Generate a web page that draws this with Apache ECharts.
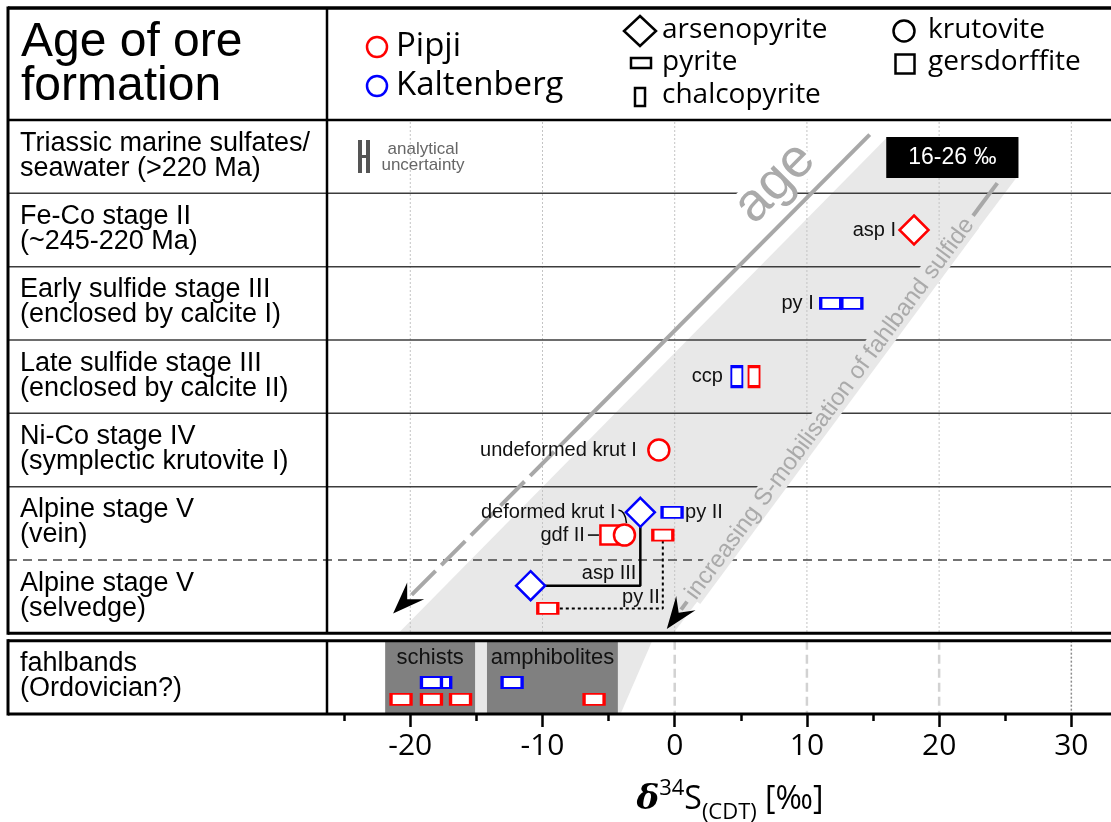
<!DOCTYPE html>
<html>
<head>
<meta charset="utf-8">
<title>Age of ore formation – δ34S</title>
<script src="https://cdn.jsdelivr.net/npm/echarts@6.0.0/dist/echarts.min.js"></script>
<style>
  html, body { margin: 0; padding: 0; background: #fff; }
  #chart { width: 1111px; height: 822px; }
</style>
</head>
<body>
<div id="chart"></div>
<script>
// ---- axis ticks (δ34S, ‰ CDT) ----
const majorTicks = [-20, -10, 0, 10, 20, 30];
const minorTicks = [-25, -15, -5, 5, 15, 25];

// ---- stage rows, top to bottom ----
const stageLabels = [
  'Triassic marine sulfates/\nseawater (>220 Ma)',
  'Fe-Co stage II\n(~245-220 Ma)',
  'Early sulfide stage III\n(enclosed by calcite I)',
  'Late sulfide stage III\n(enclosed by calcite II)',
  'Ni-Co stage IV\n(symplectic krutovite I)',
  'Alpine stage V\n(vein)',
  'Alpine stage V\n(selvedge)'
];
const fahlbandLabel = 'fahlbands\n(Ordovician?)';

// ---- δ34S measurements: [δ34S ‰, row position (0 = top of first stage row)] ----
const pipjiArsenopyrite   = [[18.1, 1.5]];
const pipjiChalcopyrite   = [[6.0, 3.5]];
const pipjiGersdorffite   = [[-4.9, 5.66]];
const pipjiKrutovite      = [[-1.2, 4.5], [-3.8, 5.66]];
const pipjiPyrite         = [[-0.9, 5.66], [-9.6, 6.66], [-20.7, 7.9], [-18.4, 7.9], [-16.2, 7.9], [-6.1, 7.9]];
const kaltArsenopyrite    = [[-2.6, 5.35], [-10.9, 6.35]];
const kaltChalcopyrite    = [[4.7, 3.5]];
const kaltPyrite          = [[11.8, 2.5], [13.4, 2.5], [-0.2, 5.35], [-17.7, 7.67], [-18.4, 7.67], [-12.3, 7.67]];

// ---- reference ranges (‰) ----
const seawaterRange    = [16, 26];
const schistRange      = [-21.9, -15.1];
const amphiboliteRange = [-14.2, -4.3];

// shaded field of fahlband-sulfide mobilisation, in [δ34S, row position]
const mobilisationBand = [[16, 0.25], [26, 0.25], [26, 0.75], [-0.1, 7], [-20.9, 7]];
const fahlbandShade    = [[-21.9, 7.1], [-1.7, 7.1], [-4.1, 8.1], [-21.9, 8.1]];
const ageArrow          = [[14.75, 0.2], [-21.3, 6.73]];
const mobilisationArrow = [[24.4, 0.86], [-0.6, 6.94]];

// ---------------------------------------------------------------
const RED = '#ff0000', BLUE = '#0000ff', INK = '#000';
const SANS = '"Liberation Sans", Arial, sans-serif';
const OPEN = '"Open Sans", sans-serif';
const ROWS = stageLabels.length;
const FAHL_TOP = ROWS + 0.1, FAHL_BOT = ROWS + 1.1;
const X_MIN = -26.3, X_MAX = 33;
const BAND_GREY = '#e8e8e8', LINE_GREY = '#a8a8a8';

const chart = echarts.init(document.getElementById('chart'));

function markers(name, data, symbol, size, color) {
  return {
    name, type: 'scatter', data, symbol, symbolSize: size, z: 5, silent: true,
    itemStyle: { color: '#fff', borderColor: color, borderWidth: 2.5, opacity: 1 },
    emphasis: { disabled: true }
  };
}
function link(name, pts, width, dash) {
  return {
    name, type: 'line', data: pts, symbol: 'none', z: 4, silent: true,
    lineStyle: { color: INK, width, type: dash || 'solid' }
  };
}

// connectors from the selvedge samples up to the vein samples
const aspLink = [
  [kaltArsenopyrite[1][0], kaltArsenopyrite[1][1]],
  [kaltArsenopyrite[0][0], kaltArsenopyrite[1][1]],
  [kaltArsenopyrite[0][0], kaltArsenopyrite[0][1]]
];
const pyLink = [
  [pipjiPyrite[1][0], pipjiPyrite[1][1]],
  [pipjiPyrite[0][0], pipjiPyrite[1][1]],
  [pipjiPyrite[0][0], pipjiPyrite[0][1]]
];

const option = {
  animation: false,
  backgroundColor: '#fff',
  grid: { left: 327, right: 0, top: 120, bottom: 108, containLabel: false, outerBoundsMode: 'none' },
  xAxis: [{
    type: 'value', min: X_MIN, max: X_MAX, position: 'bottom',
    axisLine: { show: false, onZero: false },
    axisTick: { show: true, customValues: majorTicks, length: 13, lineStyle: { color: INK, width: 2.5 } },
    axisLabel: { show: true, customValues: majorTicks, fontFamily: OPEN, fontSize: 30, color: INK, margin: 17 },
    splitLine: { show: false },
    name: '{d|δ}{sup|34}{s|S}{sub|(CDT)}{s| [‰]}',
    nameLocation: 'middle', nameGap: 62,
    nameTextStyle: {
      padding: [0, 0, 0, 22],
      rich: {
        d:   { fontFamily: '"DejaVu Serif", serif', fontStyle: 'italic', fontWeight: 'bold', fontSize: 34, color: INK, verticalAlign: 'middle' },
        sup: { fontFamily: OPEN, fontSize: 22, color: INK, verticalAlign: 'middle', padding: [0, 0, 22, 0] },
        s:   { fontFamily: OPEN, fontSize: 32, color: INK, verticalAlign: 'middle' },
        sub: { fontFamily: OPEN, fontSize: 22, color: INK, verticalAlign: 'middle', padding: [26, 0, 0, 0] }
      }
    }
  }, {
    type: 'value', min: X_MIN, max: X_MAX, position: 'bottom',
    axisLine: { show: false, onZero: false },
    axisTick: { show: true, customValues: minorTicks, length: 7, lineStyle: { color: INK, width: 2.5 } },
    axisLabel: { show: false },
    splitLine: { show: false }
  }],
  yAxis: { type: 'value', min: 0, max: FAHL_BOT, inverse: true, show: false },
  series: [
    markers('Kaltenberg pyrite', kaltPyrite, 'rect', [20, 11], BLUE),
    link('asp III link', aspLink, 2.5),
    link('py II link', pyLink, 2, [3, 3]),
    markers('Kaltenberg chalcopyrite', kaltChalcopyrite, 'rect', [11, 20], BLUE),
    markers('Kaltenberg arsenopyrite', kaltArsenopyrite, 'diamond', [29, 29], BLUE),
    markers('Pipji pyrite', pipjiPyrite, 'rect', [20, 11], RED),
    markers('Pipji chalcopyrite', pipjiChalcopyrite, 'rect', [11, 20], RED),
    markers('Pipji gersdorffite', pipjiGersdorffite, 'rect', [19, 19], RED),
    markers('Pipji krutovite', pipjiKrutovite, 'circle', 21, RED),
    markers('Pipji arsenopyrite', pipjiArsenopyrite, 'diamond', [29, 29], RED)
  ]
};
chart.setOption(option);

// ---- frame, shading, annotations (placed through the chart's scales) ----
const px = (x, y) => chart.convertToPixel({ seriesIndex: 0 }, [x, y]);
const rowY = i => px(0, i)[1];
const TL = 8, TR = 1111, TT = 8;
const xDiv = px(X_MIN, 0)[0];
const yHead = rowY(0), yEnd = rowY(ROWS), yFT = rowY(FAHL_TOP), yFB = rowY(FAHL_BOT);

const g = [];
const line = (x1, y1, x2, y2, stroke, w, dash, z) => g.push({
  type: 'line', silent: true, z: z,
  shape: { x1, y1, x2, y2 },
  style: { stroke, lineWidth: w, lineDash: dash || null, lineCap: 'butt' }
});
const text = (t, x, y, font, fill, align, extra, z) => g.push({
  type: 'text', silent: true, z: z || 8, x, y, rotation: (extra && extra.rotation) || 0,
  style: Object.assign({ text: t, font, fill, align: align || 'left', verticalAlign: 'middle' },
    extra && extra.style ? extra.style : {})
});
const poly = (pts, fill, z, stroke, w) => g.push({
  type: 'polygon', silent: true, z,
  shape: { points: pts },
  style: { fill, stroke: stroke || null, lineWidth: w || 0 }
});

// mobilisation field
poly(mobilisationBand.map(p => px(p[0], p[1])), BAND_GREY, 0.5);
poly(fahlbandShade.map(p => px(p[0], p[1])), BAND_GREY, 0.5);

// vertical grid lines
majorTicks.forEach(v => {
  const x = px(v, 0)[0];
  line(x, yHead + 2, x, yEnd, '#c4c4c4', 1, [2, 2], 0.6);
  if (v === 30) line(x, yFT, x, yFB, '#8a8a8a', 1.5, [2, 2], 0.6);
  else line(x, yFT, x, yFB, '#d2d2d2', 2.5, [9, 5], 0.6);
});

// stage separators
for (let i = 1; i < ROWS; i++) {
  const y = rowY(i);
  if (i === ROWS - 1) line(TL, y, TR, y, '#444', 1.5, [9, 6], 0.7);
  else line(TL, y, TR, y, '#3c3c3c', 1.5, null, 0.7);
}

// age arrow: solid, then dashed towards the head
function head(tip, from, len, half, notch) {
  const dx = tip[0] - from[0], dy = tip[1] - from[1], d = Math.hypot(dx, dy);
  const ux = dx / d, uy = dy / d, nx = -uy, ny = ux;
  const bx = tip[0] - ux * len, by = tip[1] - uy * len;
  return [[tip[0], tip[1]], [bx + nx * half, by + ny * half],
          [tip[0] - ux * (len - notch), tip[1] - uy * (len - notch)], [bx - nx * half, by - ny * half]];
}
const along = (a, b, t) => [a[0] + (b[0] - a[0]) * t, a[1] + (b[1] - a[1]) * t];
{
  const a = px(...ageArrow[0]), b = px(...ageArrow[1]);
  const len = Math.hypot(b[0] - a[0], b[1] - a[1]);
  const split = along(a, b, 0.6);
  const back = along(a, b, 1 - 22 / len);
  line(a[0], a[1], split[0], split[1], LINE_GREY, 4, null, 0.8);
  line(split[0], split[1], back[0], back[1], LINE_GREY, 4, [34, 8], 0.8);
  poly(head(b, a, 32, 12, 12), INK, 0.9);
  const ang = Math.atan2(b[1] - a[1], a[0] - b[0]);
  const c = px(7.6, 0.86);
  text('age', c[0], c[1], '54px ' + SANS, '#aaaaaa', 'center',
    { rotation: ang, style: { backgroundColor: '#fff', lineHeight: 40 } }, 0.85);
}

// mobilisation arrow with its label laid on the line
{
  const a = px(...mobilisationArrow[0]), tip = px(...mobilisationArrow[1]);
  const L = Math.hypot(a[0] - tip[0], a[1] - tip[1]);
  const ux = (a[0] - tip[0]) / L, uy = (a[1] - tip[1]) / L;
  const font = '24px ' + SANS;
  const ctx = document.createElement('canvas').getContext('2d');
  ctx.font = font;
  const label = 'increasing S-mobilisation of fahlband sulfide';
  const w = ctx.measureText(label).width;
  const s0 = 40, s1 = s0 + w;
  const P = s => [tip[0] + ux * s, tip[1] + uy * s];
  const top = P(s1 + 6), bot = P(s0 - 6), back = P(24);
  line(top[0], top[1], a[0], a[1], LINE_GREY, 4, null, 0.8);
  if (s0 - 6 > 24) line(back[0], back[1], bot[0], bot[1], LINE_GREY, 4, null, 0.8);
  poly(head(tip, a, 32, 12, 12), INK, 0.9);
  const c = P((s0 + s1) / 2);
  text(label, c[0], c[1], font, '#aaaaaa', 'center',
    { rotation: Math.atan2(-uy, ux), style: { backgroundColor: BAND_GREY, lineHeight: 24 } }, 0.85);
}

// fahlband host rocks
[[schistRange, 'schists'], [amphiboliteRange, 'amphibolites']].forEach(([r, name]) => {
  const p0 = px(r[0], FAHL_TOP), p1 = px(r[1], FAHL_BOT);
  g.push({ type: 'rect', silent: true, z: 1, shape: { x: p0[0], y: p0[1], width: p1[0] - p0[0], height: p1[1] - p0[1] },
    style: { fill: '#808080' } });
  text(name, (p0[0] + p1[0]) / 2, p0[1] + 17, '22px ' + SANS, '#111', 'center', null, 1.1);
});

// seawater range box
{
  const p0 = px(seawaterRange[0], 0.232), p1 = px(seawaterRange[1], 0.79);
  g.push({ type: 'rect', silent: true, z: 9, shape: { x: p0[0], y: p0[1], width: p1[0] - p0[0], height: p1[1] - p0[1] },
    style: { fill: '#000' } });
  text(seawaterRange[0] + '-' + seawaterRange[1] + ' ‰', (p0[0] + p1[0]) / 2, (p0[1] + p1[1]) / 2,
    '23px ' + SANS, '#fff', 'center', null, 10);
}

// analytical uncertainty key
g.push({ type: 'rect', silent: true, z: 8, shape: { x: 358, y: 140, width: 4, height: 33 }, style: { fill: '#555' } });
g.push({ type: 'rect', silent: true, z: 8, shape: { x: 366, y: 140, width: 4, height: 33 }, style: { fill: '#555' } });
g.push({ type: 'rect', silent: true, z: 8, shape: { x: 361, y: 155, width: 6, height: 3 }, style: { fill: '#555' } });
text('analytical\nuncertainty', 423, 157, '17px ' + SANS, '#666', 'center', { style: { lineHeight: 16 } });

// sample labels next to their markers
const P0 = p => px(p[0], p[1]);
const notes = [
  ['asp I', P0(pipjiArsenopyrite[0]), -18, 0, 'right'],
  ['py I', P0(kaltPyrite[0]), -17, 0, 'right'],
  ['ccp', P0(kaltChalcopyrite[0]), -14, 0, 'right'],
  ['undeformed krut I', P0(pipjiKrutovite[0]), -22, 0, 'right'],
  ['deformed krut I', P0(pipjiKrutovite[1]), -9, -23, 'right'],
  ['gdf II', P0(pipjiGersdorffite[0]), -25, 0, 'right'],
  ['py II', P0(kaltPyrite[2]), 13, 0, 'left'],
  ['asp III', P0(aspLink[1]), -4, -12, 'right'],
  ['py II', P0(pyLink[1]), -3, -11, 'right']
];
notes.forEach(([t, p, dx, dy, al]) => text(t, p[0] + dx, p[1] + dy, '20px ' + SANS, '#111', al, null, 8));
{
  const sq = P0(pipjiGersdorffite[0]);
  line(sq[0] - 22, sq[1], sq[0] - 11, sq[1], INK, 1.5, null, 8);
  const kc = P0(pipjiKrutovite[1]);
  g.push({ type: 'bezierCurve', silent: true, z: 8,
    shape: { x1: kc[0] - 6, y1: kc[1] - 25, cpx1: kc[0] + 1, cpy1: kc[1] - 24, x2: kc[0] + 2, y2: kc[1] - 12 },
    style: { stroke: INK, lineWidth: 1.5, fill: null } });
}

// row labels
stageLabels.forEach((t, i) => text(t, 20, (rowY(i) + rowY(i + 1)) / 2 - 1, '27px ' + SANS, '#000', 'left',
  { style: { lineHeight: 25 } }));
text(fahlbandLabel, 20, (yFT + yFB) / 2 - 1, '27px ' + SANS, '#000', 'left', { style: { lineHeight: 25 } });

// header
text('Age of ore\nformation', 21, 65, '48px ' + SANS, '#000', 'left', { style: { lineHeight: 44 } });
const legendCircle = (cx, cy, r, c) => g.push({ type: 'circle', silent: true, z: 8, shape: { cx, cy, r },
  style: { fill: '#fff', stroke: c, lineWidth: 2.5 } });
const legendRect = (cx, cy, w, h) => g.push({ type: 'rect', silent: true, z: 8,
  shape: { x: cx - w / 2, y: cy - h / 2, width: w, height: h }, style: { fill: '#fff', stroke: INK, lineWidth: 2.5 } });
legendCircle(377, 47, 10, RED);
text('Pipji', 396, 47, '33px ' + OPEN, '#000');
legendCircle(377, 86, 10, BLUE);
text('Kaltenberg', 396, 86, '33px ' + OPEN, '#000');
poly([[640, 16], [656, 31], [640, 46], [624, 31]], '#fff', 8, INK, 2.5);
text('arsenopyrite', 662, 30, '28px ' + OPEN, '#000');
legendRect(641, 63, 20, 10);
text('pyrite', 662, 62, '28px ' + OPEN, '#000');
legendRect(640, 97, 10, 18);
text('chalcopyrite', 662, 95, '28px ' + OPEN, '#000');
legendCircle(904, 31, 10.5, INK);
text('krutovite', 928, 30, '28px ' + OPEN, '#000');
legendRect(905, 64, 19, 19);
text('gersdorffite', 928, 62, '28px ' + OPEN, '#000');

// table frame
line(TL, TT, TR, TT, INK, 3.5, null, 10);
line(TL, yHead, TR, yHead, INK, 2.5, null, 10);
line(TL, yEnd, TR, yEnd, INK, 3, null, 10);
line(TL, yFT, TR, yFT, INK, 3, null, 10);
line(TL, yFB, TR, yFB, INK, 3, null, 10);
line(TL, TT - 1.5, TL, yEnd + 1.5, INK, 3, null, 10);
line(TL, yFT - 1.5, TL, yFB + 1.5, INK, 3, null, 10);
line(xDiv, TT, xDiv, yEnd, INK, 2.5, null, 10);
line(xDiv, yFT, xDiv, yFB, INK, 2.5, null, 10);

chart.setOption({ graphic: { elements: g } });
</script>
</body>
</html>
